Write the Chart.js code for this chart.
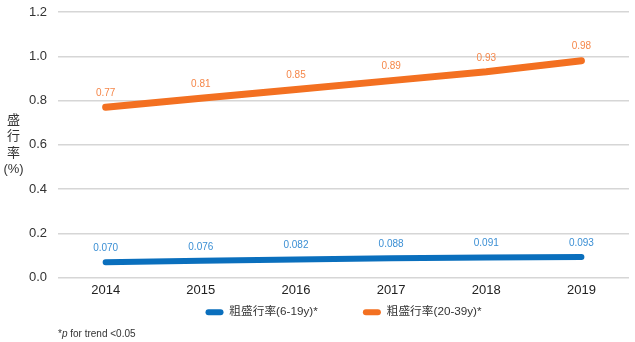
<!DOCTYPE html>
<html>
<head>
<meta charset="utf-8">
<script src="https://cdn.jsdelivr.net/npm/chart.js"></script>
<style>
  html, body { margin: 0; padding: 0; background: #fff; }
  #wrap { position: relative; width: 635px; height: 342px; }
  #ytitle {
    position: absolute; left: 0; top: 112px; width: 27px;
    text-align: center; font: 13px "Liberation Sans", "Noto Sans CJK TC", sans-serif;
    line-height: 16.3px; color: #333;
  }
  #note {
    position: absolute; left: 58px; top: 328px;
    font: 10px "Liberation Sans", Arial, sans-serif; color: #333;
  }
</style>
</head>
<body>
<div id="wrap">
  <canvas id="chart"></canvas>
  <div id="ytitle">盛<br>行<br>率<br>(%)</div>
  <div id="note">*<i>p</i> for trend &lt;0.05</div>
</div>
<script>
var years = ['2014', '2015', '2016', '2017', '2018', '2019'];
var youth = [0.070, 0.076, 0.082, 0.088, 0.091, 0.093];
var adult = [0.77, 0.81, 0.85, 0.89, 0.93, 0.98];
var seriesNames = ['粗盛行率(6-19y)*', '粗盛行率(20-39y)*'];
var yTicks = [0, 0.2, 0.4, 0.6, 0.8, 1.0, 1.2];

var FONT = '"Liberation Sans", "Noto Sans CJK TC", Arial, sans-serif';

// draws the value above each point, in the series' own tint
var valueLabels = {
  id: 'valueLabels',
  afterDatasetsDraw: function(chart) {
    var ctx = chart.ctx;
    chart.data.datasets.forEach(function(ds, i) {
      var meta = chart.getDatasetMeta(i);
      ctx.save();
      ctx.font = '10px ' + FONT;
      ctx.fillStyle = ds.labelColor;
      ctx.textAlign = 'center';
      ctx.textBaseline = 'middle';
      meta.data.forEach(function(pt, j) {
        ctx.fillText(ds.data[j].toFixed(ds.decimals), pt.x, pt.y - 14);
      });
      ctx.restore();
    });
  }
};

// center the legend under the plot area instead of the whole canvas
var legendUnderPlot = {
  id: 'legendUnderPlot',
  afterLayout: function(chart) {
    var lg = chart.legend, area = chart.chartArea;
    lg.left = area.left;
    lg.right = area.right;
    lg.width = area.right - area.left;
  }
};

new Chart(document.getElementById('chart'), {
  type: 'line',
  data: {
    labels: years,
    datasets: [
      { label: seriesNames[0], data: youth, borderColor: '#0a6fbd', backgroundColor: '#0a6fbd',
        borderWidth: 6, borderCapStyle: 'round', pointRadius: 0, labelColor: '#3b8fd4', decimals: 3 },
      { label: seriesNames[1], data: adult, borderColor: '#f37021', backgroundColor: '#f37021',
        borderWidth: 7, borderCapStyle: 'round', pointRadius: 0, labelColor: '#f5874a', decimals: 2 }
    ]
  },
  options: {
    responsive: true,
    maintainAspectRatio: false,
    animation: false,
    layout: { padding: { left: 18, right: 6, top: 12, bottom: 14 } },
    plugins: {
      tooltip: { enabled: false },
      legend: {
        position: 'bottom',
        labels: {
          color: '#333', font: { family: FONT, size: 11.7 },
          boxWidth: 18, boxHeight: 6, useBorderRadius: true, borderRadius: 3, padding: 3,
          generateLabels: function(chart) {
            var items = Chart.defaults.plugins.legend.labels.generateLabels(chart);
            items.forEach(function(it, i) {
              it.lineWidth = 0;
              it.strokeStyle = 'rgba(0,0,0,0)';
              if (i === 0) it.text += '             ';   // wide gap between the two entries
            });
            return items;
          }
        }
      }
    },
    scales: {
      x: {
        offset: true,
        grid: { display: false, drawTicks: false },
        border: { display: false },
        ticks: { color: '#222', font: { family: FONT, size: 13 }, padding: 5 }
      },
      y: {
        min: 0, max: 1.2,
        afterBuildTicks: function(axis) { axis.ticks = yTicks.map(function(v) { return { value: v }; }); },
        afterFit: function(axis) { axis.paddingTop = 0; },
        grid: { color: '#d6d6d6', lineWidth: 1.5, drawTicks: false },
        border: { display: false },
        ticks: { color: '#333', font: { family: FONT, size: 13 }, padding: 11,
          callback: function(v) { return v.toFixed(1); } }
      }
    }
  },
  plugins: [valueLabels, legendUnderPlot]
});
</script>
</body>
</html>
